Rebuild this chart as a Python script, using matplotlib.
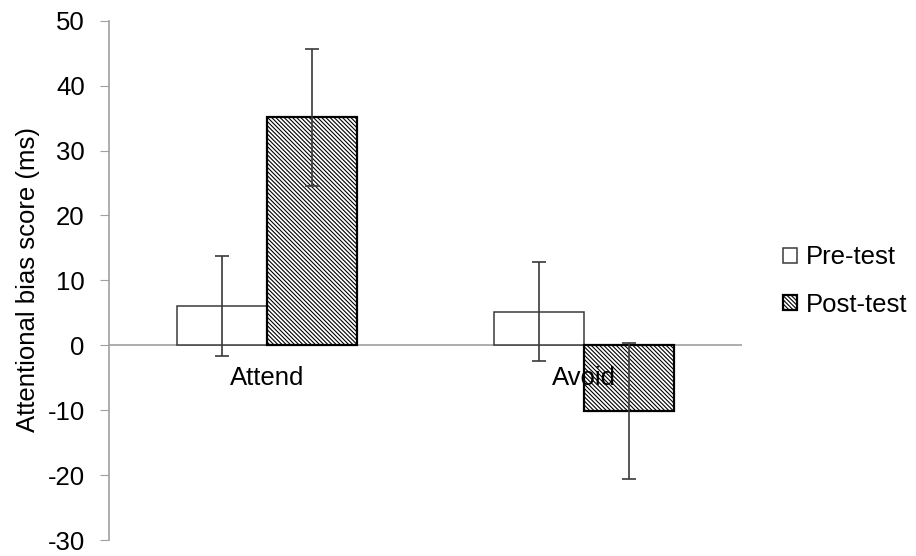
import matplotlib
matplotlib.use('Agg')
import matplotlib.pyplot as plt
import numpy as np

plt.rcParams['font.family'] = ['Liberation Sans', 'DejaVu Sans']
plt.rcParams['axes.unicode_minus'] = False
plt.rcParams['hatch.linewidth'] = 0.8

# Attentional bias scores per training condition
conditions = ['Attend', 'Avoid']
series_names = ['Pre-test', 'Post-test']
pre_means = [6.0, 5.2]
post_means = [35.1, -10.1]
pre_err = [7.7, 7.6]
post_err = [10.5, 10.5]
y_ticks = [-30, -20, -10, 0, 10, 20, 30, 40, 50]

FS = 18.5

fig = plt.figure(figsize=(9.16, 5.56), dpi=100)
ax = fig.add_axes([109 / 916, 1 - 540 / 556, (742 - 109) / 916, (540 - 20.7) / 556])

x = np.arange(len(conditions))
width = 0.284
err_kw = dict(ecolor='#3a3a3a', elinewidth=1.2, capsize=4.8, capthick=1.2)

ax.bar(x - width / 2, pre_means, width, yerr=pre_err, color='white',
       edgecolor='#3a3a3a', linewidth=1.1, label=series_names[0],
       error_kw=err_kw, zorder=2)
ax.bar(x + width / 2, post_means, width, yerr=post_err, color='white',
       edgecolor='black', linewidth=1.6, hatch='\\' * 8,
       label=series_names[1], error_kw=err_kw, zorder=2)

ax.set_xlim(-0.5, 1.5)
ax.set_ylim(-30, 50)
ax.set_yticks(y_ticks)
ax.tick_params(axis='y', labelsize=FS, length=6.5, color='#a0a0a0', pad=11)
ax.set_xticks([])

for side in ['top', 'right', 'bottom']:
    ax.spines[side].set_visible(False)
ax.spines['left'].set_color('#a0a0a0')
ax.spines['left'].set_linewidth(1.2)
ax.axhline(0, color='#a0a0a0', linewidth=1.2, zorder=1)

# category names sit just under the zero line
for xi, name in zip(x, conditions):
    ax.annotate(name, xy=(xi, 0), xytext=(0, -40), textcoords='offset pixels',
                ha='center', va='baseline', fontsize=FS, zorder=5)

fig.text(28 / 916, 1 - 280 / 556, 'Attentional bias score (ms)', rotation=90,
         ha='center', va='center', fontsize=FS)

ax.legend(loc='center left', bbox_to_anchor=(783 / 916, 1 - 281 / 556),
          bbox_transform=fig.transFigure, frameon=False, fontsize=FS,
          handlelength=0.55, handleheight=0.55, handletextpad=0.35,
          labelspacing=0.9, borderpad=0, borderaxespad=0)

fig.savefig('out.png', dpi=100)
